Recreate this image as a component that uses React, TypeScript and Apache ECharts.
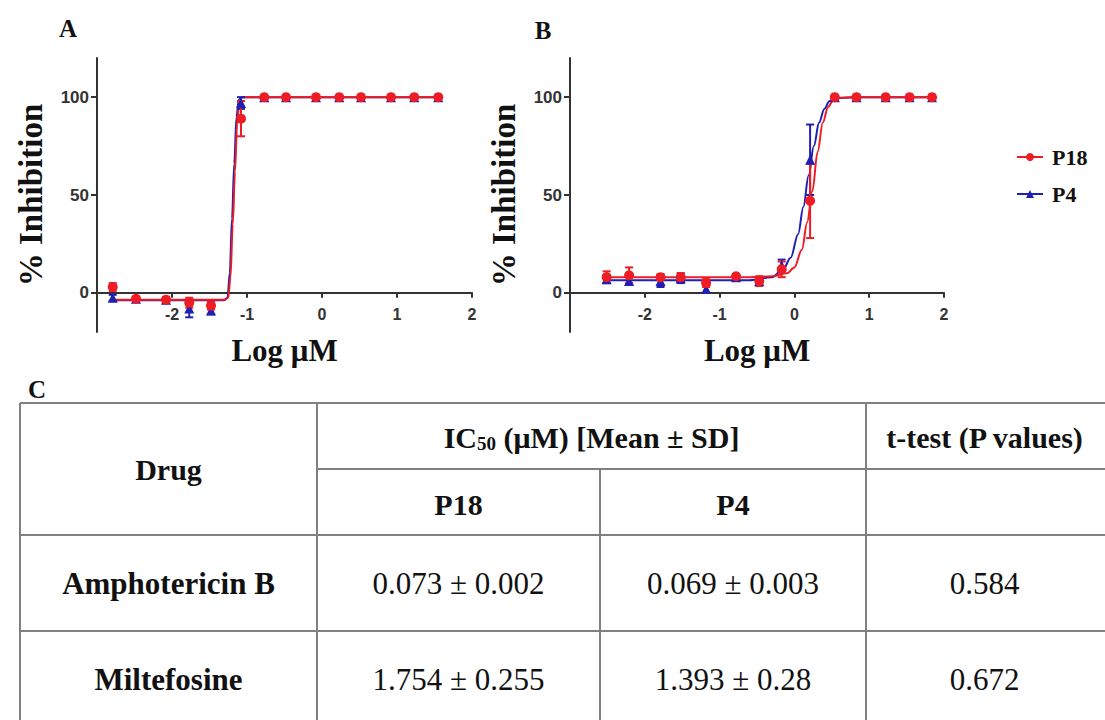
import React, { useEffect, useRef } from "react";
import * as echarts from "echarts";

// ---------- Data ----------
// Panel A : Amphotericin B
const xA = [-2.79, -2.48, -2.08, -1.77, -1.48, -1.08, -0.77, -0.48, -0.08, 0.23, 0.52, 0.92, 1.23, 1.55];
const aP18Mean = [3, -3, -3.5, -5, -6.5, 89, 100, 100, 100, 100, 100, 100, 100, 100];
const aP18Sd = [2, 1, 1.5, 2.5, 2, 9, 0.5, 0.5, 0.5, 0.5, 0.5, 0.5, 0.5, 0.5];
const aP4Mean = [-2.5, -3, -3.5, -8, -9, 97, 100, 100, 100, 100, 100, 100, 100, 100];
const aP4Sd = [1.5, 1, 1, 4.5, 2, 3, 0.5, 0.5, 0.5, 0.5, 0.5, 0.5, 0.5, 0.5];
// fitted curves A
const aP18CurveX = [-2.79, -1.3, -1.25, -1.22, -1.19, -1.16, -1.13, -1.1, -1.06, -0.9, 1.55];
const aP18CurveY = [-3.5, -3.5, -2.5, 8, 35, 62, 88, 98, 100, 100, 100];
const aP4CurveX = [-2.79, -1.31, -1.26, -1.23, -1.2, -1.17, -1.14, -1.11, -1.07, -0.9, 1.55];
const aP4CurveY = [-3.8, -3.8, -2.5, 10, 38, 66, 90, 98.5, 100, 100, 100];

// Panel B : Miltefosine
const xB = [-2.51, -2.21, -1.79, -1.52, -1.18, -0.78, -0.47, -0.17, 0.21, 0.54, 0.83, 1.22, 1.54, 1.84];
const bP18Mean = [8, 9, 8, 8, 5, 8.5, 6, 12, 47, 100, 100, 100, 100, 100];
const bP18Sd = [3, 4, 1.5, 2, 2, 1, 2.5, 4, 19, 0.5, 1, 0.5, 0.5, 0.5];
const bP4Mean = [7, 6, 6, 7.5, 2, 8, 6, 14, 68, 100, 100, 100, 100, 100];
const bP4Sd = [2, 2, 3, 2.5, 2, 1, 1, 3, 18, 0.5, 0.5, 0.5, 0.5, 0.5];
const bP18CurveX = [-2.51, -0.6, -0.3, -0.1, 0, 0.1, 0.17, 0.24, 0.31, 0.38, 0.45, 0.52, 0.6, 0.8, 1.84];
const bP18CurveY = [8, 8, 8.5, 10, 13, 22, 36, 52, 72, 87, 95, 98.5, 99.7, 100, 100];
const bP4CurveX = [-2.51, -0.6, -0.3, -0.15, -0.05, 0.05, 0.12, 0.19, 0.26, 0.33, 0.4, 0.47, 0.55, 0.8, 1.84];
const bP4CurveY = [6.5, 6.5, 8, 12, 18, 30, 44, 60, 75, 87, 94, 98, 99.5, 100, 100];

const xTickValues = [-2, -1, 0, 1, 2];
const yTickValues = [0, 50, 100];
const seriesNames = ["P18", "P4"];

// Table C
const tableDrugs = ["Amphotericin B", "Miltefosine"];
const tableP18 = ["0.073 ± 0.002", "1.754 ± 0.255"];
const tableP4 = ["0.069 ± 0.003", "1.393 ± 0.28"];
const tablePValues = ["0.584", "0.672"];

// ---------- Styles ----------
const RED = "#ee1c24";
const BLUE = "#1f1fb0";
const SERIF = "'Liberation Serif', 'Times New Roman', serif";
const SANS = "'Liberation Sans', Arial, sans-serif";
const AXIS_COLOR = "#333";

const Y_MIN = -20, Y_MAX = 120;
const GRID_TOP = 58, GRID_H = 274;
const ZERO_H = GRID_H * (Y_MAX - 0) / (Y_MAX - Y_MIN); // height from top to y=0
const PANEL_LEFT = [97, 570];
const PANEL_W = [375, 374];

const zip = (xs: number[], ys: number[]) => xs.map((x, i) => [x, ys[i]]);
const errData = (xs: number[], m: number[], s: number[]) => xs.map((x, i) => [x, m[i] - s[i], m[i] + s[i]]);

const errRender = (params: any, api: any) => {
  const x = api.value(0);
  const p1 = api.coord([x, api.value(1)]);
  const p2 = api.coord([x, api.value(2)]);
  const w = 4;
  const style = { stroke: api.visual("color"), lineWidth: 2 };
  return {
    type: "group",
    children: [
      { type: "line", shape: { x1: p1[0], y1: p1[1], x2: p2[0], y2: p2[1] }, style },
      { type: "line", shape: { x1: p1[0] - w, y1: p1[1], x2: p1[0] + w, y2: p1[1] }, style },
      { type: "line", shape: { x1: p2[0] - w, y1: p2[1], x2: p2[0] + w, y2: p2[1] }, style },
    ],
  };
};

function panelSeries(idx: number, name: string, color: string, symbol: string, cx: number[], cy: number[], xs: number[], m: number[], s: number[]) {
  return [
    {
      type: "line", name, xAxisIndex: idx, yAxisIndex: idx,
      data: zip(cx, cy), smooth: 0.35, smoothMonotone: "x",
      symbol, symbolSize: 10, showSymbol: false,
      lineStyle: { color, width: 2 }, itemStyle: { color }, z: 3,
    },
    {
      type: "custom", name, xAxisIndex: idx, yAxisIndex: idx,
      data: errData(xs, m, s), renderItem: errRender,
      encode: { x: 0, y: [1, 2] }, itemStyle: { color }, z: 4,
    },
    {
      type: "scatter", name, xAxisIndex: idx, yAxisIndex: idx,
      data: zip(xs, m), symbol, symbolSize: 10, itemStyle: { color, opacity: 1 }, z: 5,
    },
  ];
}

// data x-axis (hidden; scale only)
function makeDataXAxis(gridIndex: number) {
  return { type: "value", gridIndex, min: -3, max: 2, show: false };
}
// visible x-axis sitting on the y = 0 line (grid whose bottom is the zero line)
function makeShownXAxis(gridIndex: number) {
  return {
    type: "value", gridIndex, min: -3, max: 2, position: "bottom",
    name: "Log μM", nameLocation: "middle", nameGap: 42,
    nameTextStyle: { fontFamily: SERIF, fontWeight: "bold", fontSize: 31, color: "#111" },
    axisLine: { onZero: false, lineStyle: { color: AXIS_COLOR, width: 2 } },
    axisTick: { show: true, length: 5, customValues: xTickValues, lineStyle: { color: AXIS_COLOR, width: 2 } },
    axisLabel: { customValues: xTickValues, fontFamily: SANS, fontWeight: "bold", fontSize: 16, color: "#333", margin: 14 },
    splitLine: { show: false },
  };
}
function makeYAxis(gridIndex: number) {
  return {
    type: "value", gridIndex, min: Y_MIN, max: Y_MAX,
    name: "% Inhibition", nameLocation: "middle", nameGap: 50, nameRotate: 90,
    nameTextStyle: { fontFamily: SERIF, fontWeight: "bold", fontSize: 33, color: "#111" },
    axisLine: { show: true, onZero: false, lineStyle: { color: AXIS_COLOR, width: 2 } },
    axisTick: { show: true, length: 6, customValues: yTickValues, lineStyle: { color: AXIS_COLOR, width: 2 } },
    axisLabel: { customValues: yTickValues, fontFamily: SANS, fontWeight: "bold", fontSize: 17, color: "#333", margin: 8 },
    splitLine: { show: false },
  };
}
function makeHiddenYAxis(gridIndex: number) {
  return { type: "value", gridIndex, min: 0, max: 1, show: false };
}

function tableGraphics() {
  const L = 20, C1 = 317, C2 = 600, C3 = 866, R = 1105;
  const T = 403, H1 = 469, H2 = 535, R1 = 631, B = 720;
  const lineStyle = { stroke: "#808080", lineWidth: 2 };
  const ln = (x1: number, y1: number, x2: number, y2: number) => ({ type: "line", shape: { x1, y1, x2, y2 }, style: lineStyle, silent: true });
  const txt = (text: string, x: number, y: number, bold: boolean, size: number) => ({
    type: "text", x, y, silent: true,
    style: { text, fontFamily: SERIF, fontWeight: bold ? "bold" : "normal", fontSize: size, fill: "#111", align: "center", verticalAlign: "middle" },
  });
  const els: any[] = [
    ln(L, T, R, T), ln(C1, H1, R, H1), ln(L, H2, R, H2), ln(L, R1, R, R1),
    ln(L, T, L, B), ln(C1, T, C1, B), ln(C2, H1, C2, B), ln(C3, T, C3, B),
    txt("Drug", (L + C1) / 2, (T + H2) / 2, true, 30),
    {
      type: "text", x: (C1 + C3) / 2, y: (T + H1) / 2 + 1, silent: true,
      style: {
        text: "{a|IC}{s|50}{a| (μM) [Mean ± SD]}", align: "center", verticalAlign: "middle",
        rich: {
          a: { fontFamily: SERIF, fontWeight: "bold", fontSize: 30, fill: "#111", lineHeight: 32 },
          s: { fontFamily: SERIF, fontWeight: "bold", fontSize: 19, fill: "#111", lineHeight: 32, verticalAlign: "bottom", padding: [10, 0, 0, 0] },
        },
      },
    },
    txt("t-test (P values)", (C3 + 1103) / 2, (T + H1) / 2 + 1, true, 30),
    txt("P18", (C1 + C2) / 2, (H1 + H2) / 2 + 2, true, 30),
    txt("P4", (C2 + C3) / 2, (H1 + H2) / 2 + 2, true, 30),
  ];
  const rowY = [(H2 + R1) / 2, R1 + (R1 - H2) / 2];
  tableDrugs.forEach((d, i) => {
    els.push(txt(d, (L + C1) / 2, rowY[i], true, 31));
    els.push(txt(tableP18[i], (C1 + C2) / 2, rowY[i], false, 31));
    els.push(txt(tableP4[i], (C2 + C3) / 2, rowY[i], false, 31));
    els.push(txt(tablePValues[i], (C3 + 1103) / 2, rowY[i], false, 31));
  });
  const letter = (t: string, x: number, y: number) => ({
    type: "text", x, y, silent: true,
    style: { text: t, fontFamily: SERIF, fontWeight: "bold", fontSize: 25, fill: "#111", align: "center", verticalAlign: "middle" },
  });
  els.push(letter("A", 68, 28), letter("B", 543, 30), letter("C", 37, 389));
  return els;
}

export default function App() {
  const ref = useRef<HTMLDivElement>(null);
  useEffect(() => {
    if (!ref.current) return;
    const chart = echarts.init(ref.current, null, { renderer: "svg" });
    const option: any = {
      animation: false,
      backgroundColor: "#ffffff",
      grid: [
        { left: PANEL_LEFT[0], top: GRID_TOP, width: PANEL_W[0], height: GRID_H },
        { left: PANEL_LEFT[1], top: GRID_TOP, width: PANEL_W[1], height: GRID_H },
        { left: PANEL_LEFT[0], top: GRID_TOP, width: PANEL_W[0], height: ZERO_H },
        { left: PANEL_LEFT[1], top: GRID_TOP, width: PANEL_W[1], height: ZERO_H },
      ],
      xAxis: [makeDataXAxis(0), makeDataXAxis(1), makeShownXAxis(2), makeShownXAxis(3)],
      yAxis: [makeYAxis(0), makeYAxis(1), makeHiddenYAxis(2), makeHiddenYAxis(3)],
      legend: {
        data: seriesNames,
        orient: "vertical", left: 1011, top: 141, itemGap: 15,
        itemWidth: 26, itemHeight: 10,
        textStyle: { fontFamily: SERIF, fontWeight: "bold", fontSize: 22, color: "#111", padding: [0, 0, 0, 4] },
        selectedMode: false,
      },
      series: [
        ...panelSeries(0, "P4", BLUE, "triangle", aP4CurveX, aP4CurveY, xA, aP4Mean, aP4Sd),
        ...panelSeries(0, "P18", RED, "circle", aP18CurveX, aP18CurveY, xA, aP18Mean, aP18Sd),
        ...panelSeries(1, "P4", BLUE, "triangle", bP4CurveX, bP4CurveY, xB, bP4Mean, bP4Sd),
        ...panelSeries(1, "P18", RED, "circle", bP18CurveX, bP18CurveY, xB, bP18Mean, bP18Sd),
      ],
      graphic: tableGraphics(),
    };
    chart.setOption(option);
    return () => chart.dispose();
  }, []);
  return <div ref={ref} style={{ position: "fixed", left: 0, top: 0, width: 1105, height: 720, background: "#fff" }} />;
}
